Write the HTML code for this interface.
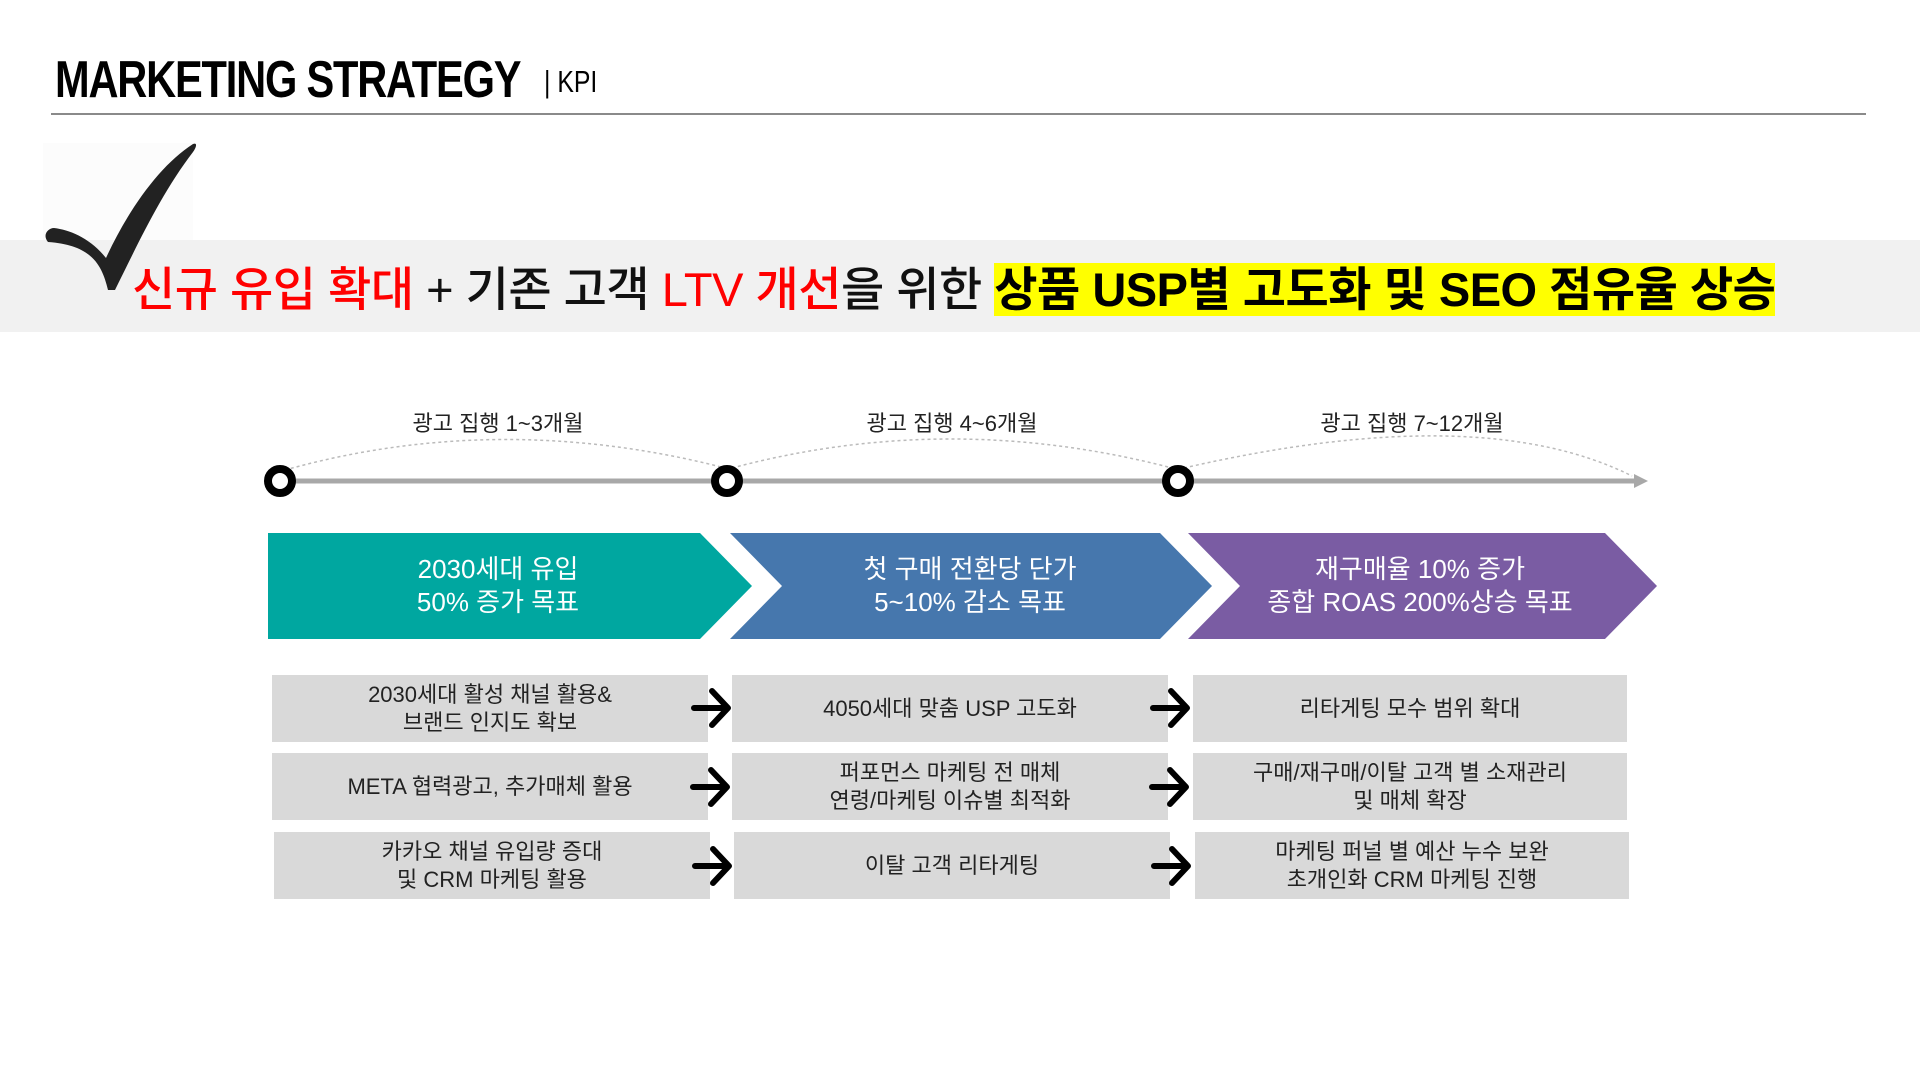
<!DOCTYPE html>
<html><head><meta charset="utf-8"><style>
*{margin:0;padding:0;box-sizing:border-box}
body{width:1920px;height:1080px;background:#fff;position:relative;overflow:hidden;font-family:"Liberation Sans","Noto Sans CJK KR",sans-serif;color:#111}
.abs{position:absolute}
.title{left:55px;top:50px;font-family:"Liberation Sans",sans-serif;font-weight:bold;font-size:52px;letter-spacing:-1.5px;color:#000;white-space:nowrap;transform:scaleX(0.8);transform-origin:0 0}
.kpi{left:544px;top:64px;font-family:"Liberation Sans",sans-serif;font-size:31px;color:#000;white-space:nowrap;transform:scaleX(0.8);transform-origin:0 0}
.band{left:0;top:240px;width:1920px;height:92px;background:#f1f1f1}
.head{left:132px;top:251px;font-size:47px;font-weight:500;white-space:nowrap;letter-spacing:-0.5px}
.red{color:#ff0000}
.hl{background:#ffff00;color:#000}
.lbl{font-size:22px;color:#222;width:300px;text-align:center}
.chev{color:#fff;font-size:26px;text-align:center;line-height:33px}
.box{background:#d9d9d9;font-size:22px;text-align:center;display:flex;align-items:center;justify-content:center;line-height:28px;color:#222}
</style></head><body>
<div class="abs title">MARKETING STRATEGY</div>
<div class="abs kpi">| KPI</div>
<div class="abs" style="left:51px;top:113px;width:1815px;height:2px;background:#8a8a8a"></div>
<div class="abs band"></div>
<div class="abs" style="left:43px;top:143px;width:150px;height:97px;background:#fcfcfc"></div>
<svg class="abs" style="left:40px;top:140px" width="160" height="155" viewBox="0 0 160 155">
<path d="M153 4 C158 2 156 8 153 12 C120 55 95 110 75 150 L68 150 C62 125 52 105 8 102 C2 95 8 88 14 88 C30 90 50 98 66 118 C88 70 120 25 153 4 Z" fill="#222"/>
</svg>
<div class="abs head"><span class="red">신규 유입 확대</span> + 기존 고객 <span class="red">LTV 개선</span>을 위한 <span class="hl" style="font-weight:bold">상품 USP별 고도화 및 SEO 점유율 상승</span></div>

<svg class="abs" style="left:0;top:400px" width="1920" height="110">
<path d="M285 70 Q500 10 725 68" fill="none" stroke="#bbb" stroke-width="1.5" stroke-dasharray="3 3"/>
<path d="M732 68 Q950 10 1172 68" fill="none" stroke="#bbb" stroke-width="1.5" stroke-dasharray="3 3"/>
<path d="M1184 68 Q1480 0 1632 76" fill="none" stroke="#bbb" stroke-width="1.5" stroke-dasharray="3 3"/>
<line x1="280" y1="81" x2="1638" y2="81" stroke="#a8a8a8" stroke-width="5"/>
<polygon points="1634,74 1648,81 1634,88" fill="#a8a8a8"/>
<circle cx="280" cy="81" r="12" fill="#fff" stroke="#000" stroke-width="8"/>
<circle cx="727" cy="81" r="12" fill="#fff" stroke="#000" stroke-width="8"/>
<circle cx="1178" cy="81" r="12" fill="#fff" stroke="#000" stroke-width="8"/>
</svg>
<div class="abs lbl" style="left:348px;top:406px">광고 집행 1~3개월</div>
<div class="abs lbl" style="left:802px;top:406px">광고 집행 4~6개월</div>
<div class="abs lbl" style="left:1262px;top:406px">광고 집행 7~12개월</div>

<svg class="abs" style="left:0;top:533px" width="1920" height="107">
<polygon points="268,0 700,0 752,53 700,106 268,106" fill="#00a7a0"/>
<polygon points="730,0 1160,0 1212,53 1160,106 730,106 782,53" fill="#4677ad"/>
<polygon points="1188,0 1605,0 1657,53 1605,106 1188,106 1240,53" fill="#7a5ca3"/>
</svg>
<div class="abs chev" style="left:268px;top:553px;width:460px">2030세대 유입<br>50% 증가 목표</div>
<div class="abs chev" style="left:740px;top:553px;width:460px">첫 구매 전환당 단가<br>5~10% 감소 목표</div>
<div class="abs chev" style="left:1190px;top:553px;width:460px">재구매율 10% 증가<br>종합 ROAS 200%상승 목표</div>

<div class="abs box" style="left:272px;top:675px;width:436px;height:67px">2030세대 활성 채널 활용&amp;<br>브랜드 인지도 확보</div>
<div class="abs box" style="left:732px;top:675px;width:436px;height:67px">4050세대 맞춤 USP 고도화</div>
<div class="abs box" style="left:1193px;top:675px;width:434px;height:67px">리타게팅 모수 범위 확대</div>
<div class="abs box" style="left:272px;top:753px;width:436px;height:67px">META 협력광고, 추가매체 활용</div>
<div class="abs box" style="left:732px;top:753px;width:436px;height:67px">퍼포먼스 마케팅 전 매체<br>연령/마케팅 이슈별 최적화</div>
<div class="abs box" style="left:1193px;top:753px;width:434px;height:67px">구매/재구매/이탈 고객 별 소재관리<br>및 매체 확장</div>
<div class="abs box" style="left:274px;top:832px;width:436px;height:67px">카카오 채널 유입량 증대<br>및 CRM 마케팅 활용</div>
<div class="abs box" style="left:734px;top:832px;width:436px;height:67px">이탈 고객 리타게팅</div>
<div class="abs box" style="left:1195px;top:832px;width:434px;height:67px">마케팅 퍼널 별 예산 누수 보완<br>초개인화 CRM 마케팅 진행</div>

<svg class="abs" style="left:0;top:0" width="1920" height="1080">
<g fill="none" stroke="#000" stroke-width="6" stroke-linecap="round" stroke-linejoin="round">
<path d="M694 708 H726 M712 691 L728 708 L712 725"/>
<path d="M1153 708 H1185 M1171 691 L1187 708 L1171 725"/>
<path d="M693 787 H725 M711 770 L727 787 L711 804"/>
<path d="M1152 787 H1184 M1170 770 L1186 787 L1170 804"/>
<path d="M695 866 H727 M713 849 L729 866 L713 883"/>
<path d="M1154 866 H1186 M1172 849 L1188 866 L1172 883"/>
</g>
</svg>
</body></html>
